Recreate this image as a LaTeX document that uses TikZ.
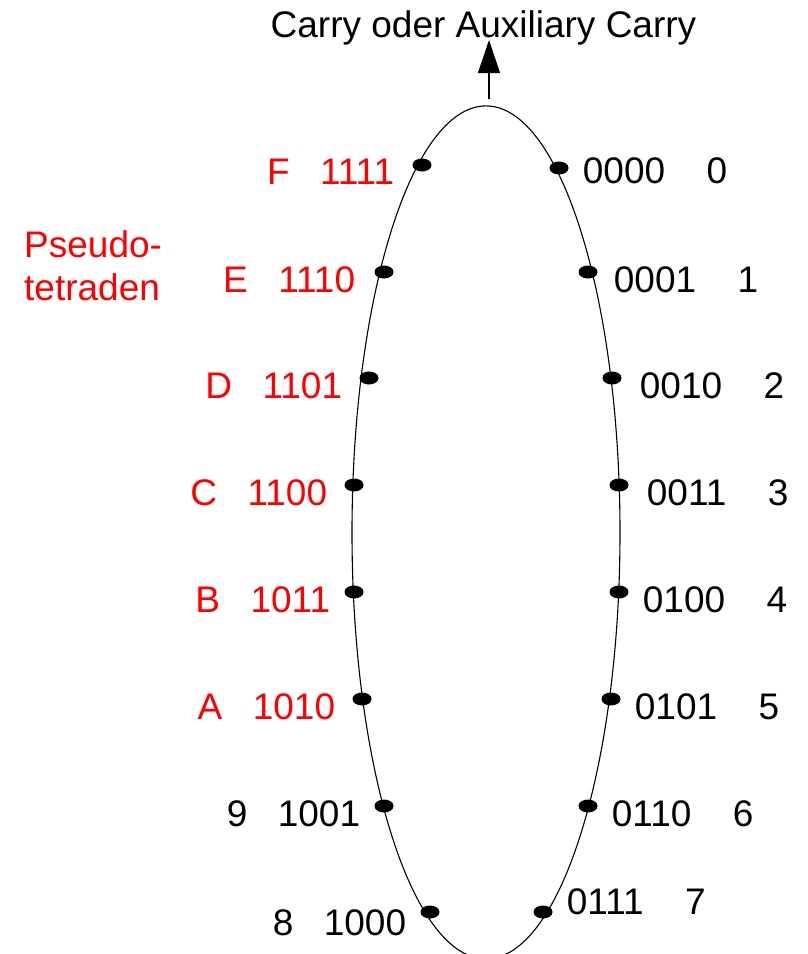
\documentclass[tikz,border=0pt]{standalone}
\usepackage{fontspec}
\setmainfont{Liberation Sans}
\usetikzlibrary{positioning,arrows.meta,shapes.geometric}
\definecolor{pred}{HTML}{FF0000}
\tikzset{
  ring/.style  ={ellipse, draw=black, line width=1.1pt, minimum width=268pt,
                 minimum height=853pt, inner sep=0pt},
  dot/.style   ={ellipse, fill=black, minimum width=19pt, minimum height=13pt, inner sep=0pt},
  txt/.style   ={font=\fontsize{37}{43}\selectfont, inner sep=0pt},
  code/.style  ={txt, yshift=-8pt},
  pcode/.style ={code, text=pred},
  lett/.style  ={txt, text=pred},
  carry/.style ={-{Triangle[length=33pt,width=22pt]}, line width=1.1pt},
}
\begin{document}
\begin{tikzpicture}[x=1pt, y=-1pt, node distance=14pt]
  \useasboundingbox (0,0) rectangle (807,954);
  \node[txt, anchor=base] (title) at (483.5,37) {Carry oder Auxiliary Carry};
  \node[ring] (ring) at (486,532.4) {};
  \draw[carry] ([xshift=3pt,yshift=6pt]ring.north) -- ([xshift=3pt,yshift=-3pt]ring.north |- title.base);
  % rechts: BCD-Ziffern
  \node[dot] (d0) at (559,168) {};
  \node[dot] (d1) at (588,272) {};
  \node[dot] (d2) at (612,378) {};
  \node[dot] (d3) at (619,485) {};
  \node[dot] (d4) at (619,592) {};
  \node[dot] (d5) at (611,699) {};
  \node[dot] (d6) at (588,806) {};
  \node[dot] (d7) at (543,912) {};
  \node[code, right=of d0, yshift=5pt] (c0) {0000};
  \node[code, right=16pt of d1] (c1) {0001};
  \node[code, right=18pt of d2] (c2) {0010};
  \node[code, right=18pt of d3] (c3) {0011};
  \node[code, right=of d4] (c4) {0100};
  \node[code, right=of d5] (c5) {0101};
  \node[code, right=of d6] (c6) {0110};
  \node[code, right=of d7, yshift=18pt] (c7) {0111};
  \node[txt, right=41pt of c0] (n0) {0};
  \node[txt, right=41pt of c1] (n1) {1};
  \node[txt, right=41pt of c2] (n2) {2};
  \node[txt, right=41pt of c3] (n3) {3};
  \node[txt, right=41pt of c4] (n4) {4};
  \node[txt, right=41pt of c5] (n5) {5};
  \node[txt, right=41pt of c6] (n6) {6};
  \node[txt, right=41pt of c7] (n7) {7};
  % links: Pseudotetraden und 8, 9
  \node[dot] (dF) at (422,165) {};
  \node[dot] (dE) at (384,272) {};
  \node[dot] (dD) at (369,378) {};
  \node[dot] (dC) at (354,485) {};
  \node[dot] (dB) at (354,592) {};
  \node[dot] (dA) at (362,699) {};
  \node[dot] (d9) at (384,806) {};
  \node[dot] (d8) at (430,912) {};
  \node[pcode, left=18pt of dF, yshift=1pt] (cF) {1111};
  \node[pcode, left=19pt of dE] (cE) {1110};
  \node[pcode, left=17pt of dD] (cD) {1101};
  \node[pcode, left=17pt of dC] (cC) {1100};
  \node[pcode, left=of dB] (cB) {1011};
  \node[pcode, left=17pt of dA] (cA) {1010};
  \node[code, left=of d9] (c9) {1001};
  \node[code, left=of d8, yshift=-3pt] (c8) {1000};
  \node[lett, left=30pt of cF] (lF) {F};
  \node[lett, left=30pt of cE] (lE) {E};
  \node[lett, left=30pt of cD] (lD) {D};
  \node[lett, left=30pt of cC] (lC) {C};
  \node[lett, left=30pt of cB] (lB) {B};
  \node[lett, left=30pt of cA] (lA) {A};
  \node[txt, left=30pt of c9] (l9) {9};
  \node[txt, left=30pt of c8] (l8) {8};
  \node[lett, align=left, anchor=north west] (pseudo) at (24,230) {Pseudo-\\tetraden};
\end{tikzpicture}
\end{document}
